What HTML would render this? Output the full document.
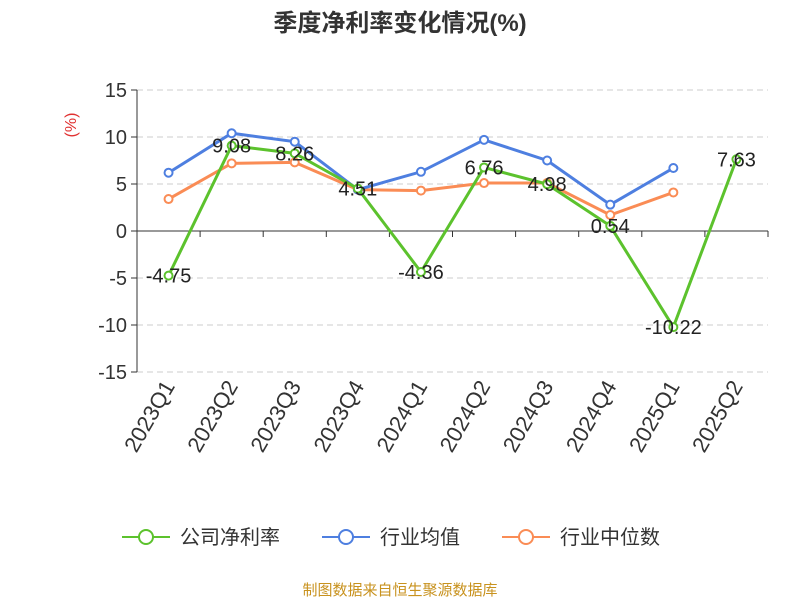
<!DOCTYPE html>
<html><head><meta charset="utf-8"><style>
body{margin:0;background:#fff;}
svg text{font-family:"Liberation Sans","Noto Sans CJK SC",sans-serif;}
</style></head><body>
<svg id="c" width="800" height="600">
<text x="400" y="31" text-anchor="middle" font-size="24" font-weight="bold" fill="#333">季度净利率变化情况(%)</text>
<text x="76" y="125" text-anchor="middle" font-size="16" fill="#e03030" transform="rotate(-90 76 125)">(%)</text>
<g id="grid"></g><g id="axes"></g><g id="series"></g>
<g>
<g><line x1="122" y1="537" x2="170" y2="537" stroke="#5cc22d" stroke-width="2"/><circle cx="146" cy="537" r="7" fill="#fff" stroke="#5cc22d" stroke-width="2"/><text x="180" y="544" font-size="20" fill="#333">公司净利率</text></g>
<g><line x1="322" y1="537" x2="370" y2="537" stroke="#4e7fe0" stroke-width="2"/><circle cx="346" cy="537" r="7" fill="#fff" stroke="#4e7fe0" stroke-width="2"/><text x="380" y="544" font-size="20" fill="#333">行业均值</text></g>
<g><line x1="502" y1="537" x2="550" y2="537" stroke="#fa8c55" stroke-width="2"/><circle cx="526" cy="537" r="7" fill="#fff" stroke="#fa8c55" stroke-width="2"/><text x="560" y="544" font-size="20" fill="#333">行业中位数</text></g>
</g>
<text x="400" y="595" text-anchor="middle" font-size="15" fill="#c8921e">制图数据来自恒生聚源数据库</text>
</svg>
<script>
const categories=["2023Q1","2023Q2","2023Q3","2023Q4","2024Q1","2024Q2","2024Q3","2024Q4","2025Q1","2025Q2"];
const company=[-4.75,9.08,8.26,4.51,-4.36,6.76,4.98,0.54,-10.22,7.63];
const industryAvg=[6.2,10.4,9.5,4.4,6.3,9.7,7.5,2.8,6.7,null];
const industryMedian=[3.4,7.2,7.3,4.4,4.3,5.1,5.1,1.7,4.1,null];
const yTicks=[15,10,5,0,-5,-10,-15];
const NS="http://www.w3.org/2000/svg";
const x0=137,x1=768,yTop=90,yBot=372,vMax=15,vMin=-15;
const bw=(x1-x0)/categories.length;
function X(i){return x0+bw*(i+0.5);}
function Y(v){return yTop+(vMax-v)/(vMax-vMin)*(yBot-yTop);}
function mk(t,a,p){const e=document.createElementNS(NS,t);for(const k in a)e.setAttribute(k,a[k]);p.appendChild(e);return e;}
const grid=document.getElementById('grid'),axes=document.getElementById('axes'),ser=document.getElementById('series');
yTicks.forEach(v=>{
 if(v!==0){const l=mk('line',{x1:x0,x2:x1,y1:Y(v),y2:Y(v),stroke:'#ccc','stroke-dasharray':'6,4'},grid);
 
 }
 mk('line',{x1:x0-6,x2:x0,y1:Y(v),y2:Y(v),stroke:'#333'},axes);
 const t=mk('text',{x:x0-10,y:Y(v)+7,'text-anchor':'end','font-size':20,fill:'#333'},axes);t.textContent=v;
 
 
});
mk('line',{x1:x0,x2:x0,y1:yTop,y2:yBot,stroke:'#333'},axes);
mk('line',{x1:x0,x2:x1,y1:Y(0),y2:Y(0),stroke:'#333'},axes);
for(let i=0;i<=categories.length;i++)mk('line',{x1:x0+bw*i,x2:x0+bw*i,y1:Y(0),y2:Y(0)+6,stroke:'#333'},axes);
categories.forEach((c,i)=>{
 const x=X(i)+7,y=386;
 const t=mk('text',{x:x,y:y,'text-anchor':'end','font-size':22,fill:'#333',transform:`rotate(-60 ${x} ${y})`},axes);t.textContent=c;
 
 
});
function line(data,color,name,labels){
 const g=mk('g',{},ser);
 
 
 let d='';data.forEach((v,i)=>{if(v==null)return;d+=(d?'L':'M')+X(i)+','+Y(v);});
 mk('path',{d:d,fill:'none',stroke:color,'stroke-width':3},g);
 data.forEach((v,i)=>{if(v==null)return;
  const c=mk('circle',{cx:X(i),cy:Y(v),r:4,fill:'#fff',stroke:color,'stroke-width':2},g);
  
  
  if(labels){const t=mk('text',{x:X(i),y:Y(v)+7,'text-anchor':'middle','font-size':20,fill:'#222'},g);t.textContent=v.toFixed(2);
  
  }
 });
}
line(industryMedian,'#fa8c55','industry-median-line',false);
line(industryAvg,'#4e7fe0','industry-avg-line',false);
line(company,'#5cc22d','company-line',true);
</script>
</body></html>
